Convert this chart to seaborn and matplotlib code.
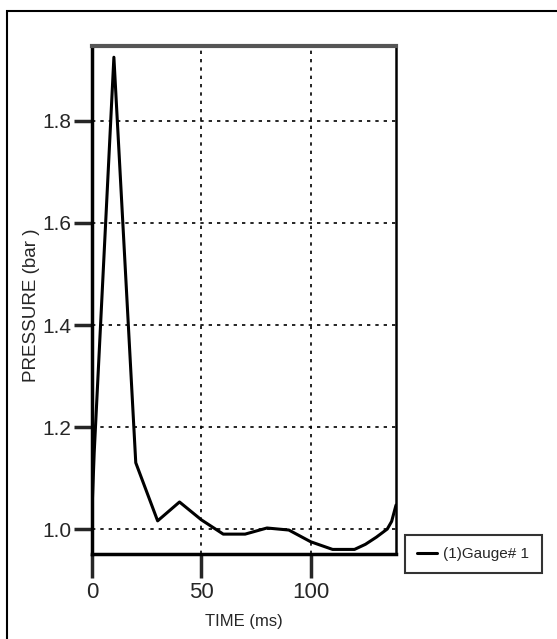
import numpy as np
import pandas as pd
import seaborn as sns
import matplotlib.pyplot as plt
from matplotlib.patches import Rectangle

# Gauge pressure trace
time_ms = [0, 1, 10, 20, 30, 40, 50, 60, 70, 80, 90, 100, 110, 120, 125, 130, 135, 137, 139]
pressure_bar = [1.037, 1.15, 1.925, 1.13, 1.016, 1.053, 1.018, 0.99, 0.99, 1.002, 0.998, 0.975, 0.96, 0.96, 0.97, 0.984, 1.0, 1.015, 1.047]
series_label = '(1)Gauge# 1'

df = pd.DataFrame({'time': time_ms, 'pressure': pressure_bar})

sns.set_style('white')
plt.rcParams['font.family'] = ['Liberation Sans', 'DejaVu Sans']

fig = plt.figure(figsize=(5.57, 6.39), dpi=100)
ax = fig.add_axes([0.1652, 0.133, 0.5458, 0.795])

sns.lineplot(x='time', y='pressure', data=df, ax=ax, color='black', linewidth=2.2,
             label=series_label)

ax.set_xlim(0, 139)
ax.set_ylim(0.951, 1.947)
ax.set_xticks([0, 50, 100])
ax.set_yticks([1.0, 1.2, 1.4, 1.6, 1.8])
ax.set_yticklabels(['1.0', '1.2', '1.4', '1.6', '1.8'])
ax.grid(True, color='black', linestyle=(0, (2, 3)), linewidth=1.2)
ax.tick_params(axis='x', length=17, width=2.5, labelsize=16, pad=3, direction='out', bottom=True)
ax.tick_params(axis='y', length=13, width=2.5, labelsize=15, pad=2, direction='out', left=True)

for side in ['left', 'bottom']:
    ax.spines[side].set_linewidth(2.5)
    ax.spines[side].set_color('black')
ax.spines['top'].set_linewidth(3)
ax.spines['top'].set_color('#555555')
ax.spines['right'].set_linewidth(1.8)
ax.spines['right'].set_color('black')

ax.set_xlabel('TIME (ms)', fontsize=12, labelpad=8)
ax.set_ylabel('PRESSURE (bar )', fontsize=13.5)
ax.yaxis.set_label_coords(-0.17, 0.49)

leg = ax.legend(loc='center left', bbox_to_anchor=(1.03, 0.0), frameon=True, fancybox=False,
                fontsize=11, handlelength=1.3, handletextpad=0.4, borderpad=0.8,
                borderaxespad=0)
leg.get_frame().set_edgecolor('black')
leg.get_frame().set_linewidth(1.5)

# outer frame, only top and left edges visible
fig.patches.append(Rectangle((7 / 557, -0.1), 1.2, 1.1 - 11 / 639, transform=fig.transFigure,
                             fill=False, edgecolor='black', linewidth=1.5))

fig.savefig('out.png', dpi=100)
